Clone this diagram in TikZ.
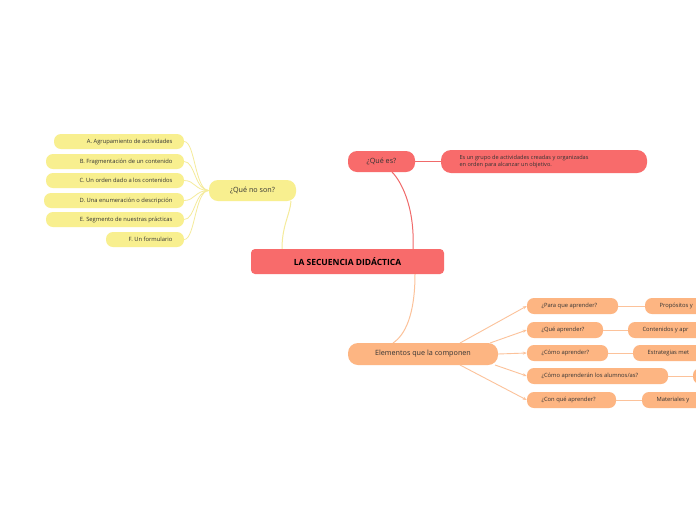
\documentclass[tikz,border=0pt]{standalone}
\usepackage{fontspec}
\setmainfont{Open Sans}
\usetikzlibrary{arrows.meta}
\definecolor{redc}{HTML}{F86B6B}
\definecolor{yelc}{HTML}{F8EF8F}
\definecolor{orac}{HTML}{FDB582}
\definecolor{redl}{HTML}{F06A6A}
\definecolor{yell}{HTML}{F5EB9A}
\definecolor{oral}{HTML}{FCC29A}
\definecolor{txt}{HTML}{333333}
\tikzset{
 box/.style={rounded corners=7pt,inner sep=0pt,text=txt,font=\fontsize{6.2}{7}\selectfont},
 ylink/.style={yell,line width=0.8pt},
 olink/.style={oral,line width=0.9pt},
}
\newcommand{\bx}[7]{\node[box,fill=#1,minimum width=#4-#2,minimum height=#5-#3,#6] (#7) at ({(#2+#4)/2},{(#3+#5)/2}) {};}
\begin{document}
\begin{tikzpicture}[x=1pt,y=-1pt]
\useasboundingbox (0,0) rectangle (696,520);
\fill[white] (0,0) rectangle (696,520);
\clip (0,0) rectangle (696,520);
% connectors first
\draw[redl,line width=1pt] (413,249) .. controls (415,205) and (400,180) .. (392,172);
\draw[ylink,line width=1pt] (282,249) .. controls (282,225) and (290,215) .. (291,201);
\draw[olink,line width=1pt] (415,274) .. controls (415,315) and (405,335) .. (393,343);
% nodes
\bx{redc}{251}{249}{444}{274}{rounded corners=4pt}{c}
\node[font=\fontsize{8.5}{10}\selectfont\bfseries,text=black] at (c) {LA SECUENCIA DIDÁCTICA};
\bx{redc}{348}{151}{415}{172}{rounded corners=9pt}{q}
\node[font=\fontsize{7.2}{8}\selectfont,text=txt] at (q) {¿Qué es?};
\bx{redc}{441}{150}{647}{173}{rounded corners=10pt}{d}
\node[font=\fontsize{5.6}{6.8}\selectfont,text=txt,align=left,anchor=west] at (456,161.5) {Es un grupo de actividades creadas y organizadas\\en orden para alcanzar un objetivo.};
\draw[redl,line width=0.9pt] (q.east) -- (d.west);
\bx{yelc}{209}{180}{296}{201}{rounded corners=9pt}{n}
\node[font=\fontsize{7.2}{8}\selectfont,text=txt] at (n) {¿Qué no son?};
\foreach \l/\t/\b/\s/\nm in {54/134/149/A. Agrupamiento de actividades/a,46/154/169/B. Fragmentación de un contenido/b,46/173/188/C. Un orden dado a los contenidos/cc,44/193/208/D. Una enumeración o descripción/dd,46/212/227/E. Segmento de nuestras prácticas/e,106/232/247/F. Un formulario/f}{
 \bx{yelc}{\l}{\t}{184}{\b}{}{\nm}
 \node[font=\fontsize{5.8}{7}\selectfont,text=txt,anchor=east] at (176,{(\t+\b)/2}) {\s};
 \draw[ylink] (n.west) .. controls (195,190.5) and (195,{(\t+\b)/2}) .. (\nm.east);
}
\bx{orac}{348}{343}{498}{365}{rounded corners=10pt}{el}
\node[font=\fontsize{7.2}{8}\selectfont,text=txt] at (el) {Elementos que la componen};
\foreach \r/\t/\s/\rr/\rl/\nm/\sx/\sy in {
 618/298/{¿Para que aprender?}/645/{Propósitos y}/p1/460/343,
 603/322/{¿Qué aprender?}/628/{Contenidos y apr}/p2/490/343,
 608/345/{¿Cómo aprender?}/633/{Estrategias met}/p3/498/354,
 668/368/{¿Cómo aprenderán los alumnos/as?}/693/{}/p4/495/365,
 616/392/{¿Con qué aprender?}/642/{Materiales y}/p5/460/365}{
 \bx{orac}{527}{\t}{\r}{\t+16}{}{\nm}
 \node[font=\fontsize{5.8}{7}\selectfont,text=txt,anchor=west] at (538,\t+8) {\s};
 \bx{orac}{\rr}{\t}{760}{\t+16}{}{\nm r}
 \node[font=\fontsize{5.8}{7}\selectfont,text=txt,anchor=west] at (\rr+11,\t+8) {\rl};
 \draw[olink] (\nm.east) -- (\nm r.west);
 \coordinate (s\nm) at (\sx,\sy);
 \draw[olink,-{Stealth[length=4pt,width=3pt]}] (s\nm) -- (\nm.west);
}
\end{tikzpicture}
\end{document}
